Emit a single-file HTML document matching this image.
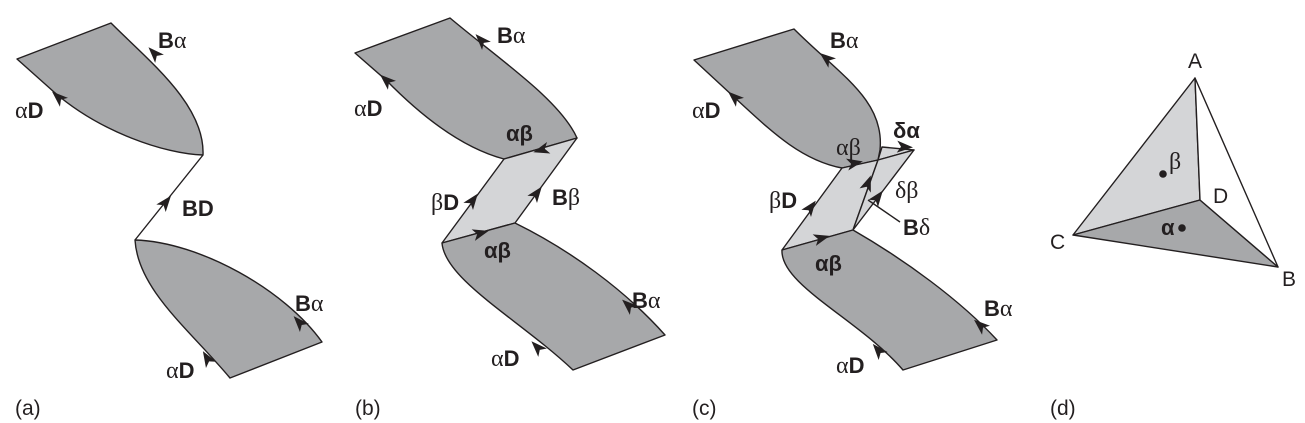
<!DOCTYPE html>
<html><head><meta charset="utf-8">
<style>
html,body{margin:0;padding:0;background:#fff;}
svg{display:block;}
text{font-family:"Liberation Sans",sans-serif;font-size:22px;fill:#231f20;}
.g{font-family:"Liberation Serif",serif;font-weight:normal;font-size:24px;}
.b{font-weight:bold;}
.cap{font-size:21px;}
</style></head>
<body>
<svg id="fig" width="1305" height="423" viewBox="0 0 1305 423" xmlns="http://www.w3.org/2000/svg">
<g stroke="#231f20" stroke-width="1.4" stroke-linejoin="round">
<g>
<path fill="#a7a8aa" d="M17,59 L111,23 C150,62 205,105 203,155 C165,154 100,132 54,92 Z"/>
<path fill="none" d="M203,155 L135,240"/>
<path fill="#a7a8aa" d="M135,240 C200,242 285,290 322,342 L230,378 C190,330 138,290 135,240 Z"/>
</g>
<g>
<path fill="#a7a8aa" d="M355,53 L450,18 C500,60 560,100 577,138 L504,159 C470,150 430,125 386,80 Z"/>
<path fill="#d4d5d7" d="M504,159 L577,138 L515,223 L442,243 Z"/>
<path fill="#a7a8aa" d="M442,243 L515,223 C570,250 625,290 665,335 L573,370 C520,320 445,280 442,243 Z"/>
</g>
<g>
<path fill="#a7a8aa" d="M694,60 L794,29 C840,75 885,100 880,150 L878,160 L842,168 C800,160 770,130 734,97 Z"/>
<path fill="#d4d5d7" d="M882,147 L914,150 L878,160 Z"/>
<path fill="#d4d5d7" d="M842,168 L878,160 L853,230 L782,250 Z"/>
<path fill="#d4d5d7" d="M878,160 L914,150 L853,230 Z"/>
<path fill="#a7a8aa" d="M782,250 L853,230 C905,260 960,300 997,340 L903,370 C860,320 780,285 782,250 Z"/>
<path fill="none" d="M868,200 L900,222"/>
</g>
<g>
<path fill="#d4d5d7" d="M1195,78 L1200,200 L1073,235 Z"/>
<path fill="#a7a8aa" d="M1073,235 L1200,200 L1278,267 Z"/>
<path fill="#fff" d="M1195,78 L1278,267 L1200,200 Z"/>
<circle cx="1163" cy="174" r="3.8" fill="#231f20" stroke="none"/>
<circle cx="1182" cy="228" r="3.8" fill="#231f20" stroke="none"/>
</g>
</g>
<g id="arrows" fill="#231f20" stroke="none"></g>

<text x="158" y="48"><tspan class="b">B</tspan><tspan class="g">α</tspan></text>
<text x="15" y="118"><tspan class="g">α</tspan><tspan class="b">D</tspan></text>
<text x="182" y="216" class="b">BD</text>
<text x="295" y="311"><tspan class="b">B</tspan><tspan class="g">α</tspan></text>
<text x="166" y="378"><tspan class="g">α</tspan><tspan class="b">D</tspan></text>
<text x="15" y="415" class="cap">(a)</text>

<text x="497" y="43"><tspan class="b">B</tspan><tspan class="g">α</tspan></text>
<text x="354" y="116"><tspan class="g">α</tspan><tspan class="b">D</tspan></text>
<text x="506" y="141" class="b">αβ</text>
<text x="431" y="210"><tspan class="g">β</tspan><tspan class="b">D</tspan></text>
<text x="552" y="205"><tspan class="b">B</tspan><tspan class="g">β</tspan></text>
<text x="484" y="258" class="b">αβ</text>
<text x="632" y="308"><tspan class="b">B</tspan><tspan class="g">α</tspan></text>
<text x="491" y="366"><tspan class="g">α</tspan><tspan class="b">D</tspan></text>
<text x="355" y="415" class="cap">(b)</text>

<text x="830" y="48"><tspan class="b">B</tspan><tspan class="g">α</tspan></text>
<text x="692" y="118"><tspan class="g">α</tspan><tspan class="b">D</tspan></text>
<text x="836" y="155" class="g">αβ</text>
<text x="893" y="138" class="b">δα</text>
<text x="769" y="208"><tspan class="g">β</tspan><tspan class="b">D</tspan></text>
<text x="895" y="198" class="g">δβ</text>
<text x="903" y="235"><tspan class="b">B</tspan><tspan class="g">δ</tspan></text>
<text x="815" y="271" class="b">αβ</text>
<text x="984" y="316"><tspan class="b">B</tspan><tspan class="g">α</tspan></text>
<text x="836" y="373"><tspan class="g">α</tspan><tspan class="b">D</tspan></text>
<text x="692" y="415" class="cap">(c)</text>

<text x="1188" y="68" class="cap">A</text>
<text x="1050" y="249" class="cap">C</text>
<text x="1282" y="286" class="cap">B</text>
<text x="1213" y="203" class="cap">D</text>
<text x="1169" y="169" class="g">β</text>
<text x="1161" y="235" class="b">α</text>
<text x="1050" y="415" class="cap">(d)</text>
</svg>
<script>
// arrow positions: [x, y, dirX, dirY]
const arrowX = [154,58,166,299,207, 481,386,541,473,537,481,628,537, 826,734,855,905,811,868,878,822,980,878];
const arrowY = [53,97,202,322,358, 40,80,150,200,193,233,305,347, 58,97,163,147,207,183,197,238,325,350];
const arrowDX = [-1,-1,0.63,-1,-0.6, -0.7,-1,-1,0.6,0.6,1,-0.75,-0.7, -0.8,-1,1,1,0.6,0.35,0.6,1,-0.8,-0.65];
const arrowDY = [-1.05,-0.9,-0.79,-1.1,-1, -0.75,-0.9,0.29,-0.8,-0.8,-0.28,-0.68,-0.72, -0.65,-0.9,-0.2,0.05,-0.8,-0.94,-0.8,-0.28,-0.7,-0.76];
const g = document.getElementById('arrows');
for (let i = 0; i < arrowX.length; i++) {
  const ang = Math.atan2(arrowDY[i], arrowDX[i]) * 180 / Math.PI;
  const p = document.createElementNS('http://www.w3.org/2000/svg', 'polygon');
  p.setAttribute('points', '8,0 -8,-6 -4,0 -8,6');
  p.setAttribute('transform', 'translate(' + arrowX[i] + ',' + arrowY[i] + ') rotate(' + ang + ')');
  
  
  g.appendChild(p);
}
</script>
</body></html>
